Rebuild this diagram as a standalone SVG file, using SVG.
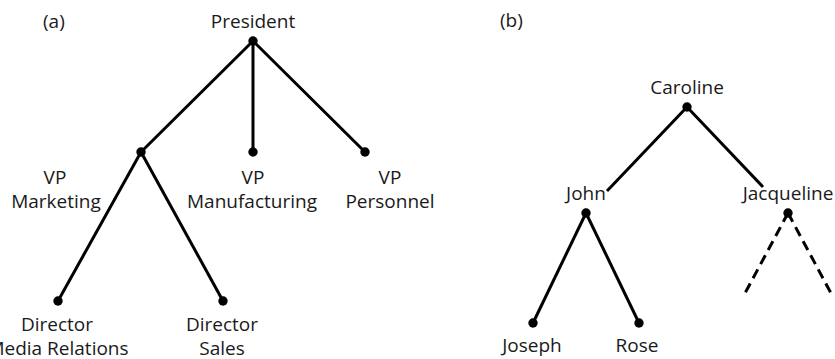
<svg xmlns="http://www.w3.org/2000/svg" width="835" height="359" viewBox="0 0 835 359">
  <style>
    text { font-family: "Open Sans", "Noto Sans", "Liberation Sans", sans-serif; font-size: 19px; fill: #1a1a1a; text-anchor: middle; }
    text.tag { text-anchor: start; }
    .edge { stroke: #000; stroke-width: 3; fill: none; stroke-linecap: butt; }
    .dashed { stroke-dasharray: 10 6; }
    .dot { fill: #000; }
  </style>

  <!-- panel captions -->
  <text class="tag" x="43" y="28">(a)</text>
  <text class="tag" x="500" y="27">(b)</text>

  <!-- edges of both trees -->
  <g id="connectors">
    <line class="edge" x1="253" y1="41" x2="141" y2="152"/>
    <line class="edge" x1="253" y1="41" x2="253" y2="152"/>
    <line class="edge" x1="253" y1="41" x2="365" y2="152"/>
    <line class="edge" x1="141" y1="152" x2="58" y2="301"/>
    <line class="edge" x1="141" y1="152" x2="223" y2="301"/>

    <line class="edge" x1="687" y1="107" x2="607" y2="191"/>
    <line class="edge" x1="687" y1="107" x2="763" y2="187"/>
    <line class="edge" x1="586" y1="213" x2="533" y2="323"/>
    <line class="edge" x1="586" y1="213" x2="639" y2="323"/>
    <line class="edge dashed" x1="788" y1="213" x2="743" y2="297"/>
    <line class="edge dashed" x1="788" y1="213" x2="833" y2="297"/>
  </g>

  <!-- (a) organisation chart -->
  <g id="president">
    <circle class="dot" cx="253" cy="41" r="4.7"/>
    <text x="253" y="28">President</text>
  </g>
  <g id="vp-marketing">
    <circle class="dot" cx="141" cy="152" r="4.7"/>
    <text x="55" y="184">VP</text>
    <text x="56" y="208">Marketing</text>
  </g>
  <g id="vp-manufacturing">
    <circle class="dot" cx="253" cy="152" r="4.7"/>
    <text x="253" y="184">VP</text>
    <text x="252" y="208">Manufacturing</text>
  </g>
  <g id="vp-personnel">
    <circle class="dot" cx="365" cy="152" r="4.7"/>
    <text x="390" y="184">VP</text>
    <text x="390" y="208">Personnel</text>
  </g>
  <g id="director-media">
    <circle class="dot" cx="58" cy="301" r="4.7"/>
    <text x="57" y="331">Director</text>
    <text x="58" y="355">Media Relations</text>
  </g>
  <g id="director-sales">
    <circle class="dot" cx="223" cy="301" r="4.7"/>
    <text x="222" y="331">Director</text>
    <text x="222" y="355">Sales</text>
  </g>

  <!-- (b) family tree -->
  <g id="caroline">
    <circle class="dot" cx="687" cy="107" r="4.7"/>
    <text x="687" y="94">Caroline</text>
  </g>
  <g id="john">
    <circle class="dot" cx="586" cy="213" r="4.7"/>
    <text x="586" y="200">John</text>
  </g>
  <g id="jacqueline">
    <circle class="dot" cx="788" cy="213" r="4.7"/>
    <text x="788" y="200">Jacqueline</text>
  </g>
  <g id="joseph">
    <circle class="dot" cx="533" cy="323" r="4.7"/>
    <text x="532" y="352">Joseph</text>
  </g>
  <g id="rose">
    <circle class="dot" cx="639" cy="323" r="4.7"/>
    <text x="637" y="352">Rose</text>
  </g>
</svg>
